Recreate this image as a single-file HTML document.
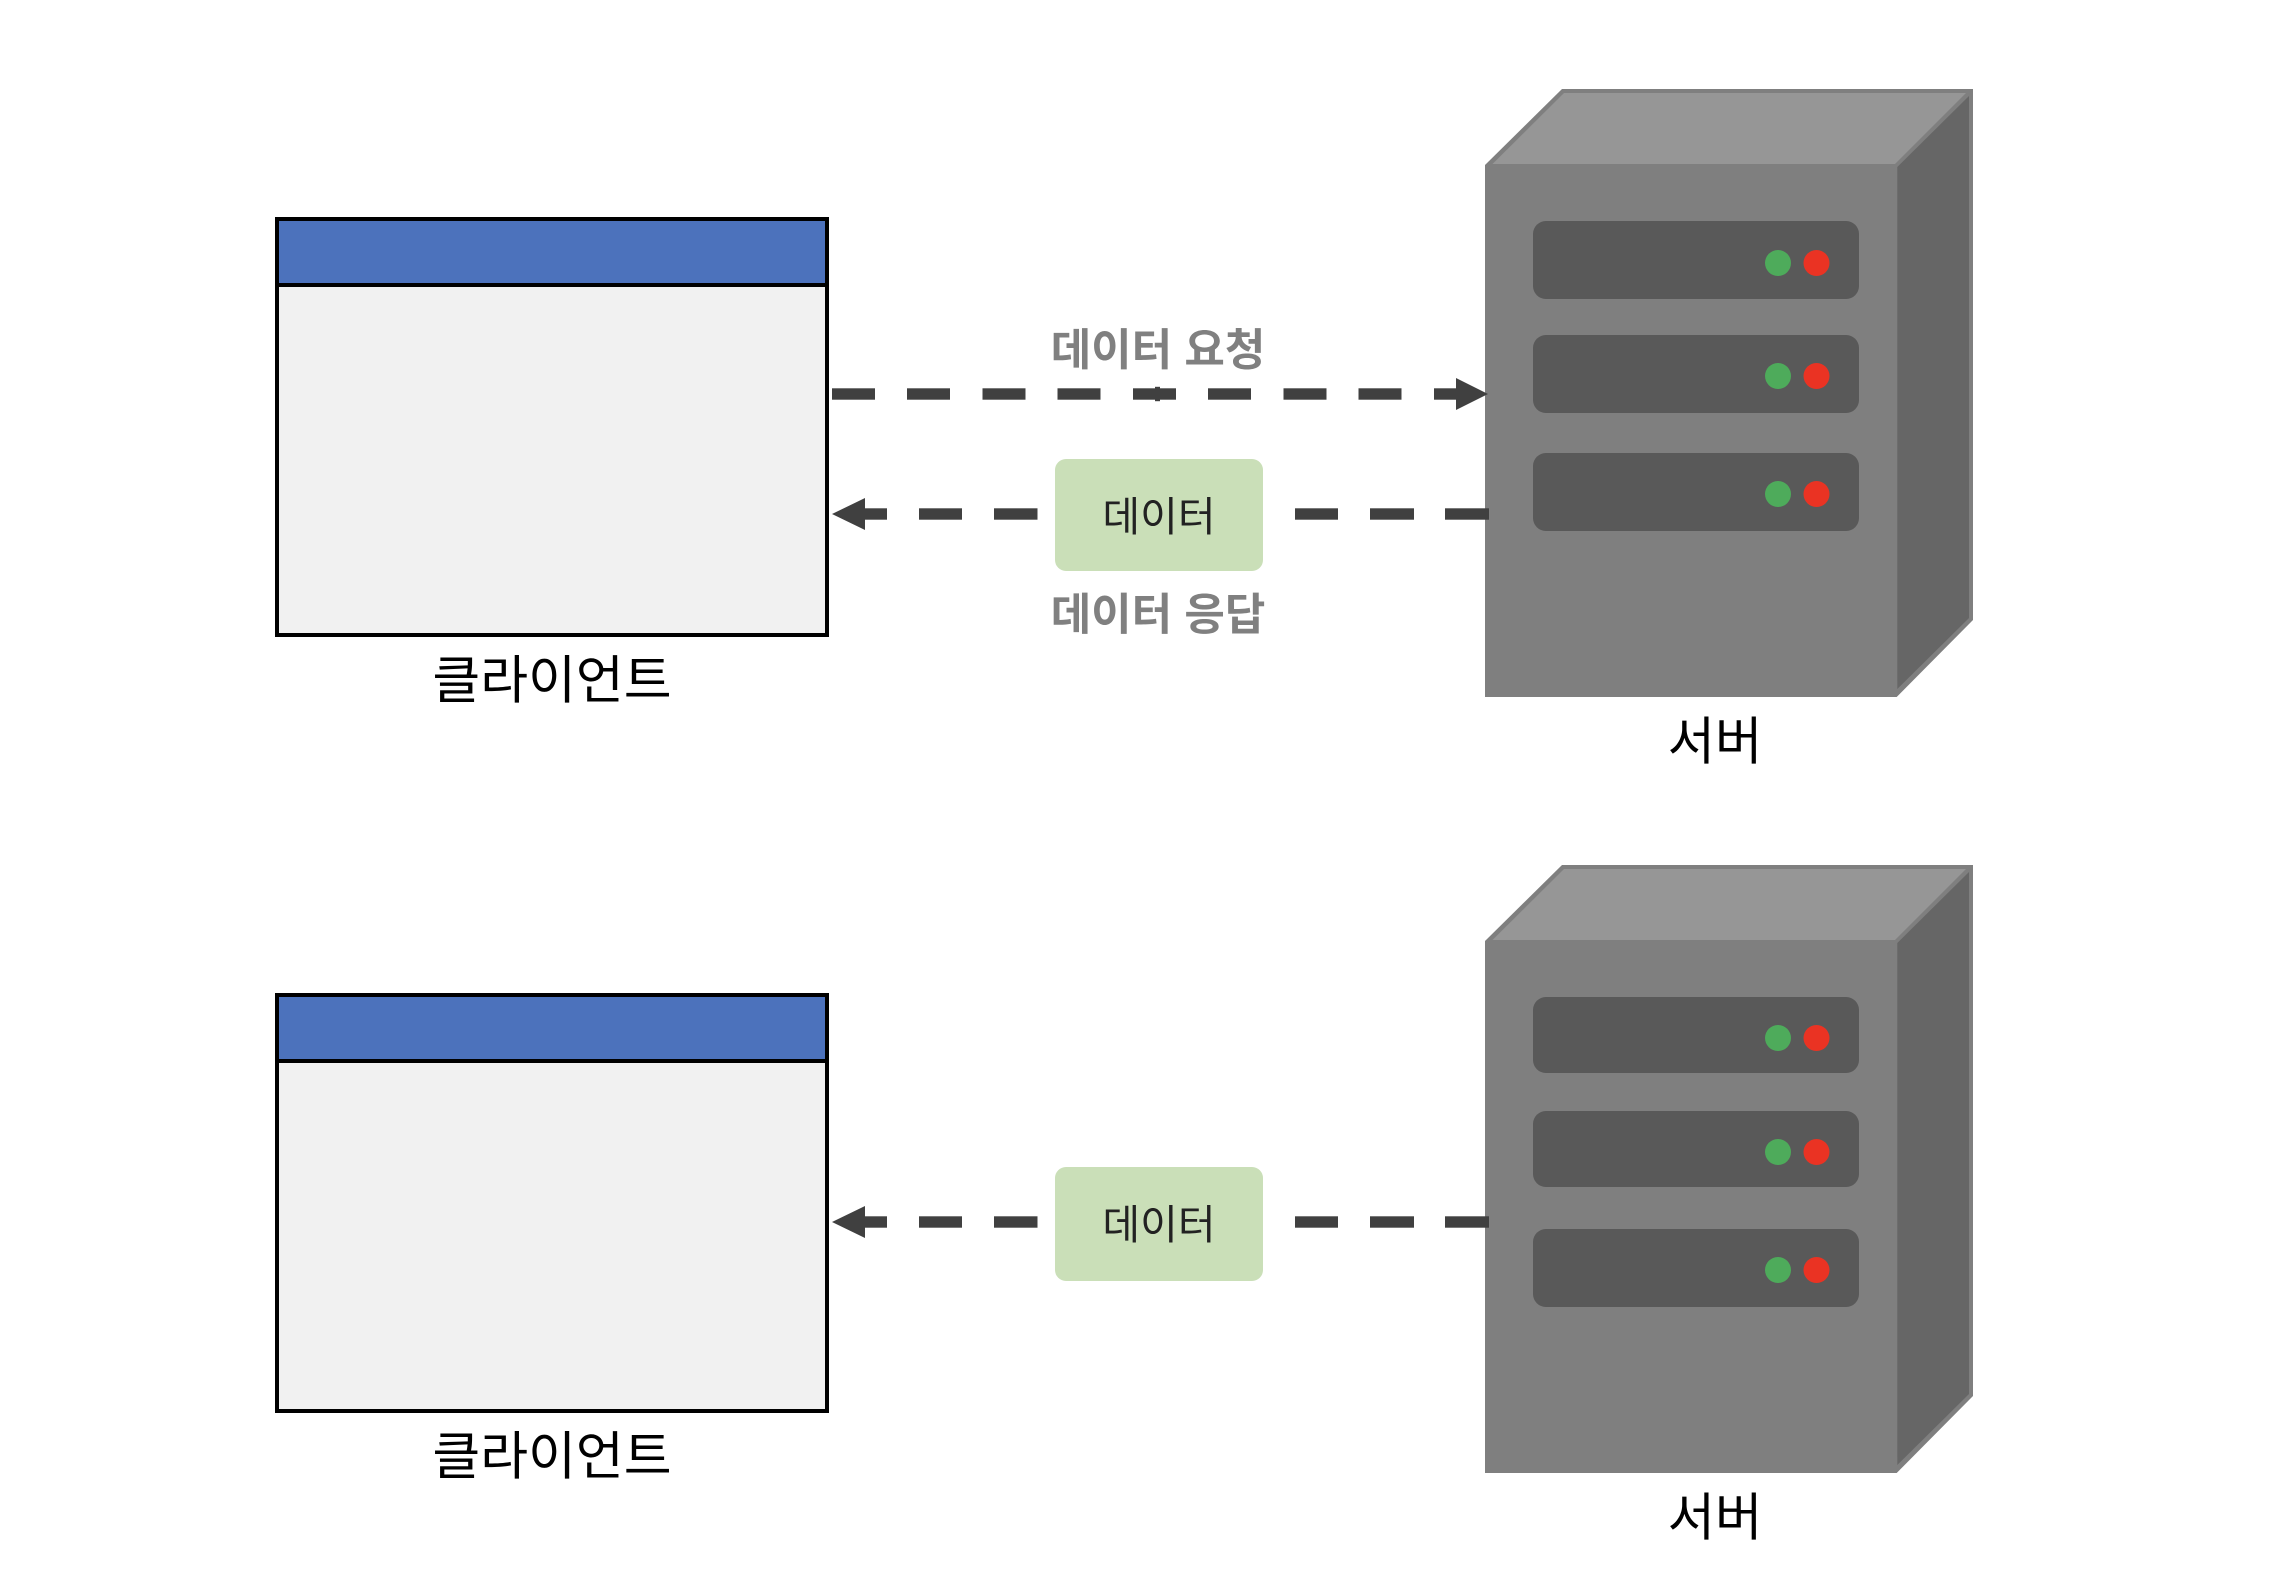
<!DOCTYPE html>
<html lang="ko">
<head>
<meta charset="utf-8">
<title>데이터 요청과 응답</title>
<style>
html,body{margin:0;padding:0;background:#fff;width:2274px;height:1570px;overflow:hidden}
svg{display:block}
text{font-family:"Liberation Sans","Noto Sans CJK KR",sans-serif;text-anchor:middle}
</style>
</head>
<body>
<svg xmlns="http://www.w3.org/2000/svg" width="2274" height="1570" viewBox="0 0 2274 1570">
<defs>
<g id="client">
  <rect x="277" y="219" width="550" height="416" fill="#F1F1F1" stroke="#000" stroke-width="4"/>
  <rect x="277" y="219" width="550" height="66" fill="#4C72BC" stroke="#000" stroke-width="4"/>
</g>
<g id="response" fill="#404040">
  <polygon points="832,514 865,498 865,530"/>
  <rect x="864" y="508.300" width="23" height="11.4"/>
  <rect x="919" y="508.300" width="43" height="11.4"/>
  <rect x="994" y="508.300" width="43.500" height="11.4"/>
  <rect x="1295" y="508.300" width="43" height="11.4"/>
  <rect x="1370" y="508.300" width="44" height="11.4"/>
  <rect x="1445" y="508.300" width="44" height="11.4"/>
</g>
</defs>

<use href="#client"/>
<use href="#client" y="776"/>

<!-- server 1 -->
<polygon points="1485,165 1562,89 1973,89 1973,620 1896.700,697 1485,697" fill="#7F7F7F"/>
<polygon points="1492.500,164 1564,93 1966,93 1895,164" fill="#969696"/>
<polygon points="1897.300,167 1969,96 1969,618 1897.300,689" fill="#666666"/>
<rect x="1533" y="221" width="326" height="78" rx="13" fill="#595959"/>
<rect x="1533" y="335" width="326" height="78" rx="13" fill="#595959"/>
<rect x="1533" y="453" width="326" height="78" rx="13" fill="#595959"/>
<circle cx="1778" cy="263" r="13" fill="#4EAB5B"/><circle cx="1816.500" cy="263" r="13" fill="#EA3323"/>
<circle cx="1778" cy="376" r="13" fill="#4EAB5B"/><circle cx="1816.500" cy="376" r="13" fill="#EA3323"/>
<circle cx="1778" cy="494" r="13" fill="#4EAB5B"/><circle cx="1816.500" cy="494" r="13" fill="#EA3323"/>

<!-- server 2 -->
<polygon points="1485,941 1562,865 1973,865 1973,1396 1896.700,1473 1485,1473" fill="#7F7F7F"/>
<polygon points="1492.500,940 1564,869 1966,869 1895,940" fill="#969696"/>
<polygon points="1897.300,943 1969,872 1969,1394 1897.300,1465" fill="#666666"/>
<rect x="1533" y="997" width="326" height="76" rx="13" fill="#595959"/>
<rect x="1533" y="1111" width="326" height="76" rx="13" fill="#595959"/>
<rect x="1533" y="1229" width="326" height="78" rx="13" fill="#595959"/>
<circle cx="1778" cy="1038" r="13" fill="#4EAB5B"/><circle cx="1816.500" cy="1038" r="13" fill="#EA3323"/>
<circle cx="1778" cy="1152" r="13" fill="#4EAB5B"/><circle cx="1816.500" cy="1152" r="13" fill="#EA3323"/>
<circle cx="1778" cy="1270" r="13" fill="#4EAB5B"/><circle cx="1816.500" cy="1270" r="13" fill="#EA3323"/>

<!-- request arrow -->
<g fill="#404040">
  <rect x="832" y="388.300" width="43" height="11.4"/>
  <rect x="907" y="388.300" width="43" height="11.4"/>
  <rect x="982.500" y="388.300" width="43" height="11.4"/>
  <rect x="1057.500" y="388.300" width="43" height="11.4"/>
  <rect x="1133" y="388.300" width="43" height="11.4"/>
  <rect x="1155" y="386.800" width="5" height="14.400"/>
  <rect x="1208" y="388.300" width="43" height="11.4"/>
  <rect x="1283.500" y="388.300" width="43" height="11.4"/>
  <rect x="1358.500" y="388.300" width="43" height="11.4"/>
  <rect x="1434" y="388.300" width="23" height="11.4"/>
  <polygon points="1488,394 1456,378 1456,410"/>
</g>

<!-- response arrows -->
<use href="#response"/>
<use href="#response" y="708"/>

<!-- data boxes -->
<rect x="1055" y="459" width="208" height="112" rx="11" fill="#CADFB8"/>
<rect x="1055" y="1167" width="208" height="114" rx="11" fill="#CADFB8"/>

<!-- labels -->
<text x="1159" y="531" font-size="41" fill="#222">데이터</text>
<text x="1159" y="1239" font-size="41" fill="#222">데이터</text>
<text x="1158" y="365" font-size="44" font-weight="700" fill="#808080">데이터 요청</text>
<text x="1158" y="629.500" font-size="44" font-weight="700" fill="#808080">데이터 응답</text>
<text x="552" y="698.500" font-size="52" fill="#000">클라이언트</text>
<text x="552" y="1474.500" font-size="52" fill="#000">클라이언트</text>
<text x="1715" y="759.500" font-size="51.500" fill="#000">서버</text>
<text x="1715" y="1535.500" font-size="51.500" fill="#000">서버</text>
</svg>
</body>
</html>
